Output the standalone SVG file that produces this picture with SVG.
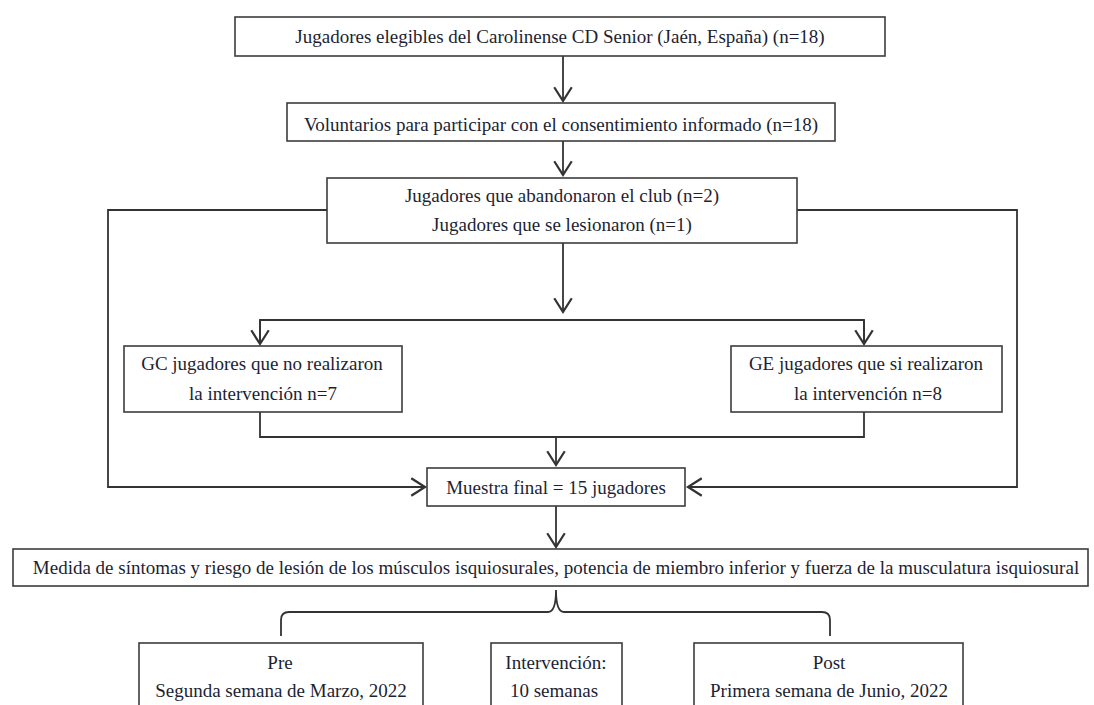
<svg xmlns="http://www.w3.org/2000/svg" width="1094" height="705" viewBox="0 0 1094 705">
<defs>
<style>
.box{fill:#fff;stroke:#3c3c3c;stroke-width:1.6}
.t{font-family:'Liberation Serif','DejaVu Serif',serif;font-size:19px;fill:#1d1f33;text-anchor:middle}
.c{fill:none;stroke:#333;stroke-width:1.8}
</style>
<marker id="ah" markerUnits="userSpaceOnUse" markerWidth="20" markerHeight="20" viewBox="-12 -8 14 16" refX="0" refY="0" orient="auto">
<path d="M-11,-7 L0,0 L-11,7" fill="none" stroke="#333" stroke-width="1.8"/>
</marker>
</defs>
<rect width="1094" height="705" fill="#fff"/>
<g id="connectors">
<path class="c" d="M563,56 V101" marker-end="url(#ah)"/>
<path class="c" d="M563,141 V175" marker-end="url(#ah)"/>
<path class="c" d="M563,243 V312" marker-end="url(#ah)"/>
<path class="c" d="M260,342 V320 H864 V342" />
<path class="c" d="M260,320 V344" marker-end="url(#ah)"/>
<path class="c" d="M864,320 V344" marker-end="url(#ah)"/>
<path class="c" d="M327,210 H108 V487 H425" marker-end="url(#ah)"/>
<path class="c" d="M797,210 H1017 V487 H688" marker-end="url(#ah)"/>
<path class="c" d="M260,412 V437 H864 V412"/>
<path class="c" d="M556,437 V465" marker-end="url(#ah)"/>
<path class="c" d="M556,506 V547" marker-end="url(#ah)"/>
<path class="c" d="M281,636 V620 Q281,612 289,612 H548 Q556,612 556,590 Q556,612 564,612 H822 Q830,612 830,620 V636"/>
</g>
<g font-family="Liberation Serif, serif">
<g id="n1"><rect class="box" x="235" y="17" width="650" height="39"/><text class="t" x="560" y="43">Jugadores elegibles del Carolinense CD Senior (Jaén, España) (n=18)</text></g>
<g id="n2"><rect class="box" x="287" y="103" width="548" height="38"/><text class="t" x="561" y="131">Voluntarios para participar con el consentimiento informado (n=18)</text></g>
<g id="n3"><rect class="box" x="327" y="178" width="470" height="65"/><text class="t" x="562" y="202">Jugadores que abandonaron el club (n=2)</text><text class="t" x="562" y="231">Jugadores que se lesionaron (n=1)</text></g>
<g id="n4"><rect class="box" x="124" y="346" width="278" height="66"/><text class="t" x="262" y="370">GC jugadores que no realizaron</text><text class="t" x="263" y="400">la intervención n=7</text></g>
<g id="n5"><rect class="box" x="731" y="346" width="271" height="66"/><text class="t" x="866" y="370">GE jugadores que si realizaron</text><text class="t" x="868" y="400">la intervención n=8</text></g>
<g id="n6"><rect class="box" x="427" y="468" width="258" height="38"/><text class="t" x="556" y="494">Muestra final = 15 jugadores</text></g>
<g id="n7"><rect class="box" x="13" y="549" width="1075" height="37"/><text class="t" x="556" y="574">Medida de síntomas y riesgo de lesión de los músculos isquiosurales, potencia de miembro inferior y fuerza de la musculatura isquiosural</text></g>
<g id="n8"><rect class="box" x="139" y="643" width="284" height="70"/><text class="t" x="280" y="669">Pre</text><text class="t" x="281" y="697">Segunda semana de Marzo, 2022</text></g>
<g id="n9"><rect class="box" x="491" y="643" width="131" height="70"/><text class="t" x="556" y="669">Intervención:</text><text class="t" x="554" y="697">10 semanas</text></g>
<g id="n10"><rect class="box" x="694" y="643" width="269" height="70"/><text class="t" x="829" y="669">Post</text><text class="t" x="829" y="697">Primera semana de Junio, 2022</text></g>
</g>
</svg>
